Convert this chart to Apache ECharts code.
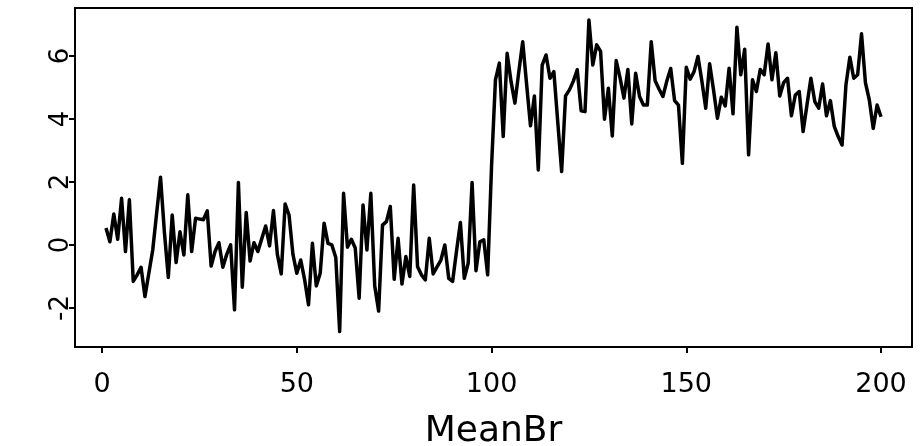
<!DOCTYPE html>
<html>
<head>
<meta charset="utf-8">
<script src="https://cdn.jsdelivr.net/npm/echarts@6/dist/echarts.min.js"></script>
<style>
html,body{margin:0;padding:0;background:#fff;}
#chart{width:922px;height:446px;}
</style>
</head>
<body>
<div id="chart"></div>
<script>
var xTicks = [0, 50, 100, 150, 200];
var yTicks = [-2, 0, 2, 4, 6];
var meanBr = [
  0.54, 0.1, 0.98, 0.18, 1.48, -0.21, 1.43, -1.16, -0.95, -0.71,
  -1.64, -0.9, -0.16, 1.0, 2.15, 0.4, -1.03, 0.95, -0.56, 0.42,
  -0.32, 1.59, -0.21, 0.85, 0.82, 0.8, 1.08, -0.67, -0.21, 0.07,
  -0.71, -0.3, 0.0, -2.06, 1.98, -1.34, 1.03, -0.51, 0.07, -0.21,
  0.2, 0.6, -0.03, 1.09, -0.3, -0.92, 1.3, 0.95, -0.3, -0.9,
  -0.48, -1.1, -1.9, 0.05, -1.3, -0.9, 0.69, 0.05, 0.0, -0.4,
  -2.75, 1.64, -0.07, 0.18, -0.1, -1.69, 1.27, -0.16, 1.64, -1.3,
  -2.1, 0.63, 0.74, 1.22, -1.09, 0.21, -1.24, -0.37, -1.0, 1.9,
  -0.69, -0.95, -1.11, 0.21, -0.92, -0.7, -0.48, 0.0, -1.06, -1.16,
  -0.2, 0.71, -1.06, -0.58, 1.98, -0.82, 0.1, 0.16, -0.95, 2.5,
  5.24, 5.77, 3.44, 6.08, 5.19, 4.5, 5.5, 6.45, 5.1, 3.78,
  4.73, 2.38, 5.71, 6.03, 5.29, 5.5, 3.9, 2.33, 4.73, 4.92,
  5.2, 5.56, 4.26, 4.23, 7.14, 5.71, 6.35, 6.14, 3.99, 4.97,
  3.46, 5.85, 5.3, 4.66, 5.57, 3.84, 5.45, 4.71, 4.44, 4.44,
  6.45, 5.21, 4.95, 4.71, 5.2, 5.6, 4.58, 4.44, 2.59, 5.64,
  5.26, 5.5, 5.98, 5.2, 4.34, 5.75, 4.92, 4.02, 4.69, 4.41,
  5.61, 4.16, 6.91, 5.4, 6.21, 2.86, 5.24, 4.87, 5.57, 5.4,
  6.38, 5.24, 6.1, 4.73, 5.15, 5.29, 4.1, 4.76, 4.87, 3.6,
  4.45, 5.29, 4.55, 4.34, 5.11, 4.1, 4.58, 3.76, 3.44, 3.17,
  5.08, 5.96, 5.29, 5.4, 6.7, 5.15, 4.6, 3.7, 4.44, 4.07
];
var index = meanBr.map(function (v, i) { return i + 1; });
var seriesData = meanBr.map(function (v, i) { return [index[i], v]; });

var font = '"DejaVu Sans", "Liberation Sans", Arial, sans-serif';
var chart = echarts.init(document.getElementById('chart'), null, {renderer: 'canvas'});
chart.setOption({
  animation: false,
  backgroundColor: '#fff',
  grid: {
    left: 75, right: 10, top: 8, bottom: 99,
    containLabel: false,
    outerBoundsMode: 'none',
    show: true, borderColor: '#000', borderWidth: 2, backgroundColor: 'transparent'
  },
  xAxis: {
    type: 'value',
    min: -6.96, max: 207.96,
    name: 'MeanBr',
    nameLocation: 'middle',
    nameGap: 67,
    nameTextStyle: {fontFamily: font, fontSize: 36, color: '#000'},
    axisLine: {show: false, onZero: false},
    splitLine: {show: false},
    axisTick: {show: true, length: 6, customValues: xTicks, lineStyle: {color: '#000', width: 2}},
    axisLabel: {customValues: xTicks, fontFamily: font, fontSize: 27, color: '#000', margin: 24}
  },
  yAxis: {
    type: 'value',
    min: -3.24, max: 7.52,
    axisLine: {show: false, onZero: false},
    splitLine: {show: false},
    axisTick: {show: true, length: 6, customValues: yTicks, lineStyle: {color: '#000', width: 2}},
    axisLabel: {customValues: yTicks, fontFamily: font, fontSize: 26, color: '#000', margin: 1, rotate: 90}
  },
  series: [{
    type: 'line',
    data: seriesData,
    showSymbol: false,
    symbol: 'none',
    lineStyle: {color: '#000', width: 3.5, join: 'round'},
    silent: true
  }]
});
</script>
</body>
</html>
